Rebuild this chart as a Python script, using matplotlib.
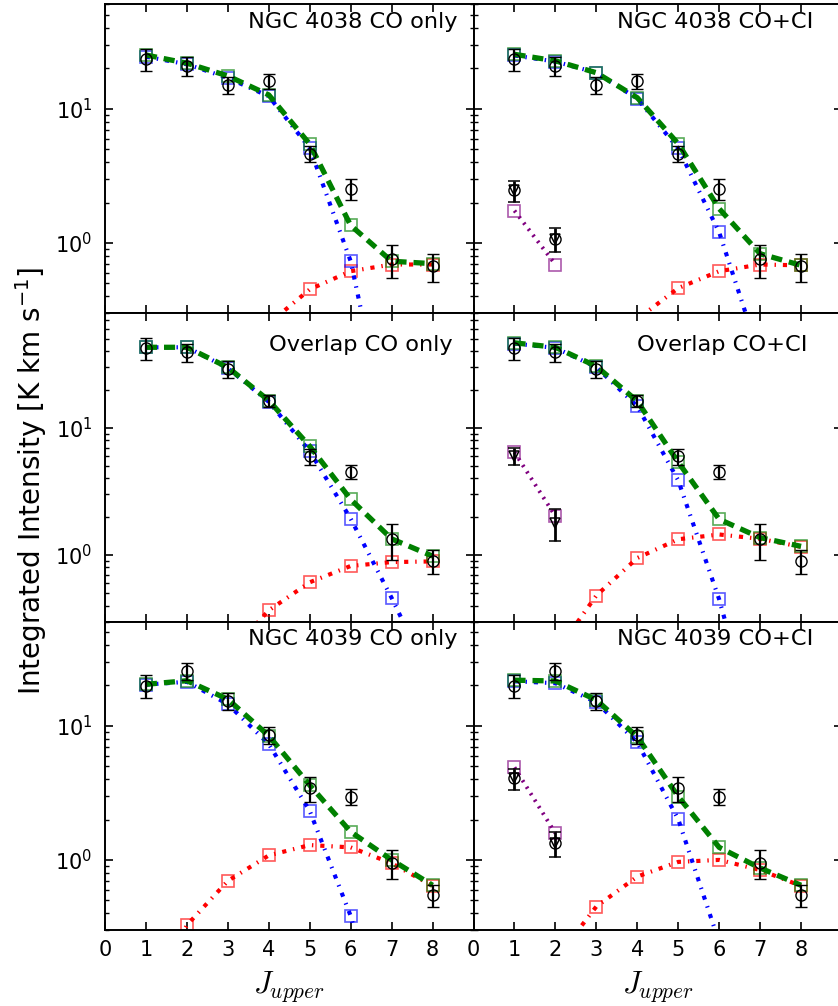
import matplotlib
matplotlib.use("Agg")
import matplotlib.pyplot as plt
from matplotlib.ticker import LogLocator, NullFormatter

plt.rcParams["lines.scale_dashes"] = False
plt.rcParams["font.family"] = ["DejaVu Sans"]

J = [1, 2, 3, 4, 5, 6, 7, 8]
J_CI = [1, 2]

# Observed CO ladders (K km/s) with 1-sigma errors
co_4038 = [23.6, 21.0, 15.1, 16.1, 4.64, 2.53, 0.755, 0.67]
co_4038_err = [4.5, 3.3, 2.1, 2.1, 0.65, 0.45, 0.21, 0.16]
co_overlap = [42.5, 39.3, 29.0, 16.4, 5.98, 4.51, 1.34, 0.896]
co_overlap_err = [8.2, 6.4, 4.3, 1.85, 0.85, 0.57, 0.42, 0.19]
co_4039 = [19.9, 25.7, 15.4, 8.57, 3.43, 2.97, 0.955, 0.546]
co_4039_err = [3.9, 3.85, 2.3, 1.24, 0.72, 0.40, 0.24, 0.10]

# Observed [CI] lines (plotted at J_upper = 1, 2)
ci_4038 = [2.47, 1.07]
ci_4038_err = [0.45, 0.22]
ci_overlap = [6.0, 1.8]
ci_overlap_err = [0.9, 0.5]
ci_4039 = [4.05, 1.33]
ci_4039_err = [0.7, 0.28]

# Two-component LVG fits, CO only: cold (blue), warm (red), total (green)
cold_4038_co = [24.5, 21.5, 17.0, 12.4, 5.1, 0.73, 0.027, 0.001]
warm_4038_co = [0.004, 0.02, 0.08, 0.25, 0.45, 0.615, 0.69, 0.69]
total_4038_co = [25.2, 21.9, 17.6, 12.7, 5.46, 1.35, 0.73, 0.70]
cold_overlap_co = [43.0, 43.0, 29.5, 16.0, 6.55, 1.93, 0.46, 0.099]
warm_overlap_co = [0.02, 0.06, 0.163, 0.367, 0.61, 0.82, 0.88, 0.89]
total_overlap_co = [43.0, 43.0, 29.9, 16.4, 7.17, 2.74, 1.34, 0.98]
cold_4039_co = [20.3, 21.3, 14.5, 7.3, 2.32, 0.382, 0.034, 0.002]
warm_4039_co = [0.08, 0.326, 0.697, 1.08, 1.29, 1.24, 0.944, 0.64]
total_4039_co = [20.4, 21.7, 15.8, 8.42, 3.61, 1.62, 1.0, 0.647]

# Two-component LVG fits, CO + [CI]
cold_4038_ci = [25.0, 22.5, 18.6, 11.9, 5.06, 1.20, 0.14, 0.01]
warm_4038_ci = [0.01, 0.04, 0.12, 0.27, 0.46, 0.615, 0.69, 0.68]
total_4038_ci = [25.5, 22.8, 18.6, 12.1, 5.49, 1.80, 0.83, 0.68]
cold_overlap_ci = [46.0, 42.5, 30.0, 14.8, 3.86, 0.448, 0.031, 0.002]
warm_overlap_ci = [0.05, 0.169, 0.48, 0.947, 1.33, 1.45, 1.34, 1.16]
total_overlap_ci = [46.6, 43.0, 30.5, 16.2, 5.37, 1.91, 1.37, 1.17]
cold_4039_ci = [21.5, 20.8, 15.0, 7.52, 2.01, 0.243, 0.03, 0.002]
warm_4039_ci = [0.05, 0.18, 0.449, 0.751, 0.966, 1.0, 0.84, 0.64]
total_4039_ci = [21.9, 21.6, 15.6, 8.28, 2.97, 1.24, 0.87, 0.647]

# Model [CI] intensities
ci_model_4038 = [1.74, 0.69]
ci_model_overlap = [6.43, 2.02]
ci_model_4039 = [4.9, 1.58]

region_names = ["NGC 4038", "Overlap", "NGC 4039"]
label_x = [3.5, 4.0, 3.5]
row_ylim = [(0.3, 60), (0.3, 80), (0.3, 60)]

obs = [(co_4038, co_4038_err), (co_overlap, co_overlap_err), (co_4039, co_4039_err)]
ci_obs = [(ci_4038, ci_4038_err), (ci_overlap, ci_overlap_err), (ci_4039, ci_4039_err)]
ci_circles = [True, False, True]
models_co = [(cold_4038_co, warm_4038_co, total_4038_co),
             (cold_overlap_co, warm_overlap_co, total_overlap_co),
             (cold_4039_co, warm_4039_co, total_4039_co)]
models_ci = [(cold_4038_ci, warm_4038_ci, total_4038_ci),
             (cold_overlap_ci, warm_overlap_ci, total_overlap_ci),
             (cold_4039_ci, warm_4039_ci, total_4039_ci)]
ci_models = [ci_model_4038, ci_model_overlap, ci_model_4039]

W, H = 838, 1006
fig = plt.figure(figsize=(W / 100, H / 100), dpi=100)

ax_left = [105 / W, 473.5 / W]
ax_w = 368.5 / W
row_tops = [4.5, 313.0, 621.5]
ax_h = 308.5 / H

DASHDOT = (0, (3, 5, 1, 5))
DASHED = (0, (8, 5))
DOTTED = (0, (1.5, 4))


def model_line(ax, x, y, color, ls, lw):
    ax.plot(x, y, color=color, ls=ls, lw=lw, marker="s", ms=9, mfc="none",
            mec=matplotlib.colors.to_rgba(color, 0.65), mew=1.2, zorder=2)


for r in range(3):
    for c in range(2):
        bottom = 1 - (row_tops[r] + 308.5) / H
        ax = fig.add_axes([ax_left[c], bottom, ax_w, ax_h])
        ax.set_yscale("log")
        ax.set_xlim(0, 9)
        ax.set_ylim(*row_ylim[r])

        cold, warm, total = (models_co if c == 0 else models_ci)[r]
        model_line(ax, J, warm, "r", DASHDOT, 3.0)
        model_line(ax, J, cold, "b", DASHDOT, 3.0)
        model_line(ax, J, total, "g", DASHED, 3.8)

        vals, errs = obs[r]
        ax.errorbar(J, vals, yerr=errs, fmt="o", ms=8, mfc="none", mec="k",
                    mew=1.0, ecolor="k", elinewidth=1.6, capsize=4,
                    capthick=1.6, zorder=4)

        if c == 1:
            model_line(ax, J_CI, ci_models[r], "purple", DOTTED, 2.8)
            cvals, cerrs = ci_obs[r]
            ax.errorbar(J_CI, cvals, yerr=cerrs, fmt="v", ms=7.5, mfc="none",
                        mec="k", mew=1.1, ecolor="k", elinewidth=2.0,
                        capsize=4, capthick=1.8, zorder=4)
            if ci_circles[r]:
                ax.plot(J_CI, cvals, "o", ms=8, mfc="none", mec="k", mew=1.0,
                        zorder=4)

        tag = "CO only" if c == 0 else "CO+CI"
        ax.text(label_x[r], 40, f"{region_names[r]} {tag}", fontsize=16.2,
                ha="left", va="baseline")

        ax.set_xticks(range(9))
        ax.yaxis.set_major_locator(LogLocator(base=10, numticks=10))
        ax.yaxis.set_minor_locator(LogLocator(base=10, subs=range(2, 10),
                                              numticks=20))
        ax.yaxis.set_minor_formatter(NullFormatter())
        ax.tick_params(which="both", direction="in", top=True, right=True,
                       labelsize=15)
        ax.tick_params(which="major", length=6, width=1.2)
        ax.tick_params(which="minor", length=3.2, width=1.0)
        ax.tick_params(axis="x", pad=7)
        ax.tick_params(axis="y", pad=9)
        for sp in ax.spines.values():
            sp.set_linewidth(1.4)

        if c == 1:
            ax.tick_params(axis="y", labelleft=False)
        if r < 2:
            ax.tick_params(axis="x", labelbottom=False)
        else:
            ax.set_xlabel("$J_{upper}$", fontsize=22, math_fontfamily="cm",
                          labelpad=7)

fig.text(31 / W, 0.522, "Integrated Intensity [K km s$^{-1}$]", rotation=90,
         ha="center", va="center", fontsize=20)

fig.savefig("out.png", dpi=100, facecolor="white")
